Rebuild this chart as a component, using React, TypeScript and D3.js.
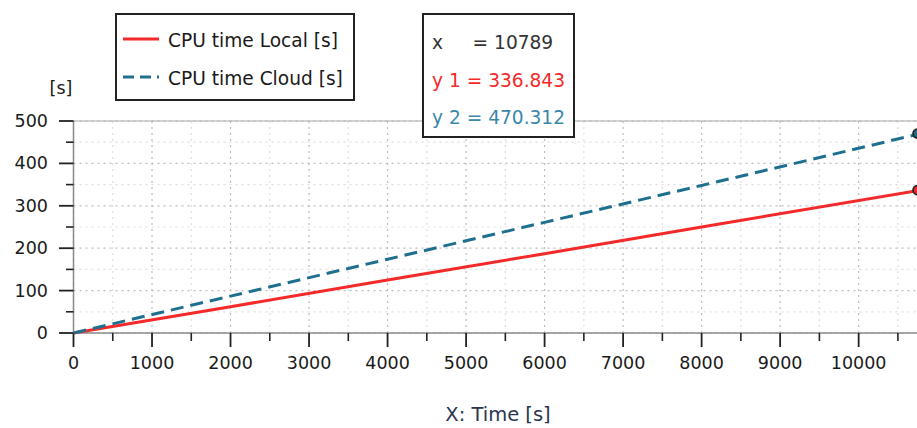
import React from "react";
import * as d3 from "d3";

const timeValues = [0, 2000, 4000, 6000, 8000, 10789];
const localCpu = [0, 62, 125, 187, 250, 336.843];
const cloudCpu = [0, 87, 174, 261, 348, 470.312];
const xTicks = [0, 1000, 2000, 3000, 4000, 5000, 6000, 7000, 8000, 9000, 10000];
const yTicks = [0, 100, 200, 300, 400, 500];
const seriesNames = ["CPU time Local [s]", "CPU time Cloud [s]"];
const cursorX = 10789;
const cursorLabels = ["x     = 10789", "y 1 = 336.843", "y 2 = 470.312"];

const W = 917;
const H = 428;
const RED = "#f42a2a";
const BLUE = "#1f6f8f";
const FONT = "DejaVu Sans, Verdana, sans-serif";

export default function App() {
  const x = d3.scaleLinear().domain([0, cursorX]).range([73.5, 920.6]);
  const y = d3.scaleLinear().domain([0, 500]).range([333, 121]);
  const xGrid = d3.range(0, 11001, 500);
  const yGrid = d3.range(0, 501, 50);
  const xMinor = d3.range(500, 11001, 1000);
  const yMinor = d3.range(50, 500, 100);

  const line = d3
    .line<number>()
    .x((_, i) => x(timeValues[i]))
    .y((d) => y(d));

  const [x0] = x.range();
  const [yb, yt] = y.range();

  return (
    <svg
      width={W}
      height={H}
      style={{ position: "absolute", left: 0, top: 0, background: "#fff" }}
      fontFamily={FONT}
    >
      <defs>
        <clipPath id="plotclip">
          <rect x={x0} y={yt - 6} width={W - x0} height={yb - yt + 12} />
        </clipPath>
      </defs>
      {yGrid.map((v) => (
        <line
          key={"gy" + v}
          x1={x0}
          x2={W}
          y1={y(v)}
          y2={y(v)}
          stroke={v % 100 === 0 ? "#bdbdbd" : "#dedede"}
          strokeWidth={1.2}
          strokeDasharray="2,4"
        />
      ))}
      {xGrid.map((v) => (
        <line
          key={"gx" + v}
          x1={x(v)}
          x2={x(v)}
          y1={yt}
          y2={yb}
          stroke={v % 1000 === 0 ? "#bdbdbd" : "#dedede"}
          strokeWidth={1.2}
          strokeDasharray="2,4"
        />
      ))}
      <line x1={x0} x2={W} y1={yt} y2={yt} stroke="#a8a8a8" strokeWidth={1.2} />
      <line x1={x0} x2={W} y1={yb} y2={yb} stroke="#8a8a8a" strokeWidth={1.5} />
      <line x1={x0} x2={x0} y1={yt} y2={yb} stroke="#8a8a8a" strokeWidth={1.5} />
      {yTicks.map((v) => (
        <g key={"yt" + v}>
          <line x1={59} x2={x0} y1={y(v)} y2={y(v)} stroke="#222" strokeWidth={1.8} />
          <text
            x={48}
            y={y(v)}
            textAnchor="end"
            dominantBaseline="central"
            fontSize={17.5}
            fill="#1a1a1a"
          >
            {v}
          </text>
        </g>
      ))}
      {yMinor.map((v) => (
        <line key={"ym" + v} x1={66} x2={x0} y1={y(v)} y2={y(v)} stroke="#222" strokeWidth={1.6} />
      ))}
      {xTicks.map((v) => (
        <g key={"xt" + v}>
          <line x1={x(v)} x2={x(v)} y1={yb} y2={yb + 14} stroke="#222" strokeWidth={1.8} />
          <text
            x={x(v)}
            y={363}
            textAnchor="middle"
            dominantBaseline="central"
            fontSize={17.5}
            fill="#1a1a1a"
          >
            {v}
          </text>
        </g>
      ))}
      {xMinor.map((v) => (
        <line key={"xm" + v} x1={x(v)} x2={x(v)} y1={yb} y2={yb + 8} stroke="#222" strokeWidth={1.6} />
      ))}
      <text x={61} y={88} textAnchor="middle" dominantBaseline="central" fontSize={17.5} fill="#1a1a1a">
        [s]
      </text>
      <text x={498} y={414} textAnchor="middle" dominantBaseline="central" fontSize={19.5} fill="#2a3550">
        X: Time [s]
      </text>
      <g clipPath="url(#plotclip)">
        <path d={line(localCpu) || ""} fill="none" stroke={RED} strokeWidth={3} />
        <path
          d={line(cloudCpu) || ""}
          fill="none"
          stroke={BLUE}
          strokeWidth={3}
          strokeDasharray="13,7"
        />
      </g>
      <circle
        cx={x(cursorX) - 3}
        cy={y(localCpu[localCpu.length - 1])}
        r={4.5}
        fill={RED}
        stroke="#222"
        strokeWidth={1.8}
      />
      <circle
        cx={x(cursorX) - 3}
        cy={y(cloudCpu[cloudCpu.length - 1])}
        r={4.5}
        fill={BLUE}
        stroke="#222"
        strokeWidth={1.8}
      />
      <rect x={116} y={14} width={238} height={86} fill="#fff" stroke="#222" strokeWidth={2} />
      <line x1={123} x2={159} y1={39} y2={39} stroke={RED} strokeWidth={3} />
      <line x1={123} x2={159} y1={77} y2={77} stroke={BLUE} strokeWidth={3} strokeDasharray="11,6" />
      <text x={168} y={40} dominantBaseline="central" fontSize={18.6} fill="#1a1a1a">
        {seriesNames[0]}
      </text>
      <text x={168} y={78} dominantBaseline="central" fontSize={18.6} fill="#1a1a1a">
        {seriesNames[1]}
      </text>
      <rect x={423} y={14} width={151} height={123} fill="#fff" stroke="#222" strokeWidth={2} />
      <text x={432} y={42} dominantBaseline="central" fontSize={18.6} fill="#333" style={{ whiteSpace: "pre" }}>
        {cursorLabels[0]}
      </text>
      <text x={432} y={80} dominantBaseline="central" fontSize={18.6} fill={RED} style={{ whiteSpace: "pre" }}>
        {cursorLabels[1]}
      </text>
      <text x={432} y={117} dominantBaseline="central" fontSize={18.6} fill="#3a88aa" style={{ whiteSpace: "pre" }}>
        {cursorLabels[2]}
      </text>
    </svg>
  );
}
